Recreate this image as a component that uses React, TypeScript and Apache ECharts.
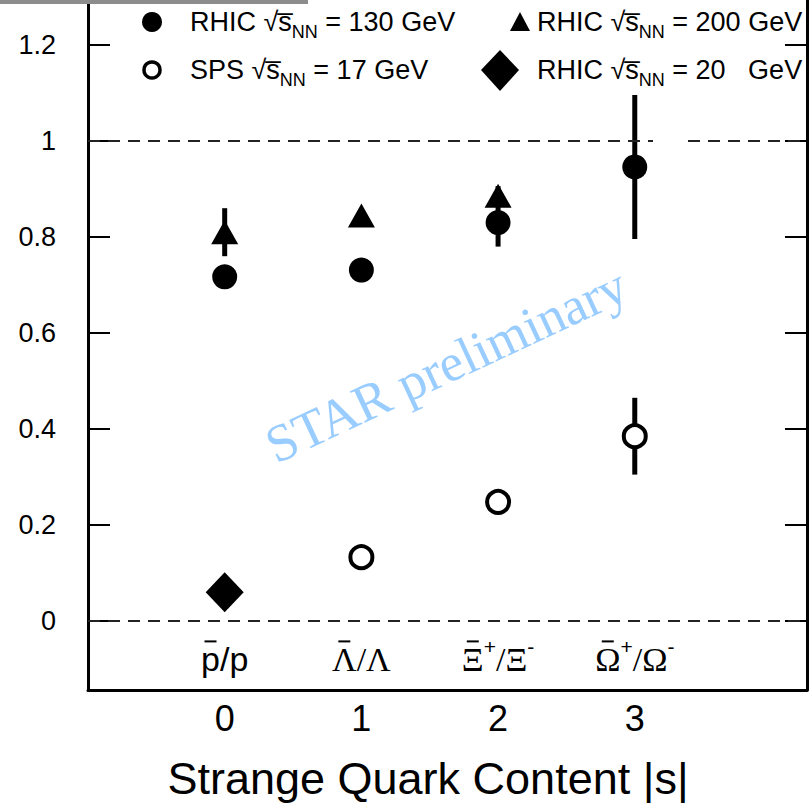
import React, { useEffect, useRef } from 'react';
import * as echarts from 'echarts';

// ---- data ----
const strangeness = [0, 1, 2, 3];
// particle ratio labels: [barred base, superscript, denominator, superscript]
const particleBase = ['p', '\u039B', '\u039E', '\u03A9'];
const particleBaseSup = ['', '', '+', '+'];
const particleDenom = ['/p', '/\u039B', '/\u039E', '/\u03A9'];
const particleDenomSup = ['', '', '-', '-'];
const particleSerif = [false, true, true, true];
const labelLevel = -0.08;

const rhic130X = [0, 1, 2, 3];
const rhic130 = [0.717, 0.731, 0.83, 0.946];
const rhic130Err = [0.02, 0.025, 0.05, 0.15];
const rhic200X = [0, 1, 2];
const rhic200 = [0.81, 0.845, 0.886];
const rhic200Err = [0.05, 0.01, 0.02];
const spsX = [1, 2, 3];
const sps = [0.133, 0.248, 0.385];
const spsErr = [0.01, 0.01, 0.08];
const rhic20X = [0];
const rhic20 = [0.06];
const yTicks = [0, 0.2, 0.4, 0.6, 0.8, 1, 1.2];
const xTicks = [0, 1, 2, 3];
const refLines = [0, 1];

const SANS = '"Liberation Sans", Arial, Helvetica, sans-serif';
const SERIF = '"Liberation Serif", "Times New Roman", serif';

let measureCtx: CanvasRenderingContext2D | null = null;
function measure(text: string, font: string): number {
  if (!measureCtx) measureCtx = document.createElement('canvas').getContext('2d');
  if (!measureCtx) return text.length * 15;
  measureCtx.font = font;
  return measureCtx.measureText(text).width;
}

function errData(xs: number[], ys: number[], es: number[]) {
  return xs.map((x, i) => [x, ys[i] - es[i], ys[i] + es[i]]);
}

function errSeries(data: number[][]) {
  return {
    type: 'custom',
    z: 2,
    silent: true,
    encode: { x: 0, y: [1, 2] },
    data,
    renderItem: (params: any, api: any) => {
      const x = api.value(0);
      const p1 = api.coord([x, api.value(1)]);
      const p2 = api.coord([x, api.value(2)]);
      return {
        type: 'line',
        shape: { x1: p1[0], y1: p1[1], x2: p2[0], y2: p2[1] },
        style: { stroke: '#000', lineWidth: 5 },
      };
    },
  };
}

const legendRich = {
  t: { fontSize: 27, fontFamily: SANS, color: '#000', lineHeight: 38 },
  gt: { fontSize: 27, fontFamily: SANS, color: '#555', lineHeight: 38 },
  sub: { fontSize: 18, fontFamily: SANS, color: '#000', lineHeight: 20, verticalAlign: 'bottom' },
  gsub: { fontSize: 18, fontFamily: SANS, color: '#555', lineHeight: 20, verticalAlign: 'bottom' },
};

export default function App() {
  const ref = useRef<HTMLDivElement>(null);
  useEffect(() => {
    if (!ref.current) return;
    const chart = echarts.init(ref.current, undefined, { renderer: 'svg' });
    const yMin = -0.14375;
    const yMax = 1.29375;
    const yAxisCommon = {
      type: 'value',
      min: yMin,
      max: yMax,
      splitLine: { show: false },
      axisLine: { show: true, onZero: false, lineStyle: { color: '#000', width: 3 } },
      axisTick: {
        show: true,
        inside: true,
        length: 22,
        customValues: yTicks,
        lineStyle: { color: '#000', width: 2 },
      },
    };
    const scatterItem = (extra: any) => ({ opacity: 1, ...extra });
    chart.setOption({
      animation: false,
      backgroundColor: '#fff',
      grid: { left: 88, right: 4, top: 0, bottom: 121, containLabel: false },
      xAxis: {
        type: 'value',
        min: -1,
        max: 4.26,
        splitLine: { show: false },
        axisLine: { show: true, onZero: false, lineStyle: { color: '#000', width: 3 } },
        axisTick: { show: false },
        axisLabel: {
          customValues: xTicks,
          fontSize: 36,
          fontFamily: SANS,
          color: '#000',
          margin: 10,
        },
      },
      yAxis: [
        {
          ...yAxisCommon,
          position: 'left',
          axisLabel: {
            customValues: yTicks,
            fontSize: 27,
            fontFamily: SANS,
            color: '#000',
            margin: 32,
          },
        },
        {
          ...yAxisCommon,
          position: 'right',
          axisLabel: { show: false },
        },
      ],
      series: [
        {
          type: 'custom',
          name: 'labels',
          silent: true,
          z: 1,
          encode: { x: 0, y: 1 },
          data: strangeness.map((x) => [x, labelLevel]),
          renderItem: (params: any, api: any) => {
            const i = params.dataIndex;
            const c = api.coord([api.value(0), api.value(1)]);
            const mainFont = `34px ${particleSerif[i] ? SERIF : SANS}`;
            const supFont = `21px ${SANS}`;
            const segs = [
              { t: particleBase[i], font: mainFont, sup: false, bar: true },
              { t: particleBaseSup[i], font: supFont, sup: true, bar: false },
              { t: particleDenom[i], font: mainFont, sup: false, bar: false },
              { t: particleDenomSup[i], font: supFont, sup: true, bar: false },
            ].filter((s) => s.t);
            const widths = segs.map((s) => measure(s.t, s.font));
            const total = widths.reduce((a, b) => a + b, 0);
            let x = c[0] - total / 2;
            const children: any[] = [];
            segs.forEach((s, k) => {
              const w = widths[k];
              children.push({
                type: 'text',
                x,
                y: s.sup ? c[1] - 13 : c[1],
                style: { text: s.t, font: s.font, fill: '#000', align: 'left', verticalAlign: 'middle' },
              });
              if (s.bar) {
                const mid = x + w / 2;
                children.push({
                  type: 'line',
                  shape: { x1: mid - 6, y1: c[1] - 18, x2: mid + 6, y2: c[1] - 18 },
                  style: { stroke: '#000', lineWidth: 2 },
                });
              }
              x += w;
            });
            return { type: 'group', children };
          },
          markLine: {
            silent: true,
            symbol: ['none', 'none'],
            label: { show: false },
            lineStyle: { type: [12, 8], width: 2, color: '#222' },
            data: refLines.map((v) => ({ yAxis: v })),
          },
        },
        errSeries(errData(rhic130X, rhic130, rhic130Err)),
        errSeries(errData(rhic200X, rhic200, rhic200Err)),
        errSeries(errData(spsX, sps, spsErr)),
        {
          type: 'scatter',
          name: 'RHIC 130',
          z: 3,
          symbol: 'circle',
          symbolSize: 25,
          itemStyle: scatterItem({ color: '#000' }),
          data: rhic130X.map((x, i) => [x, rhic130[i]]),
        },
        {
          type: 'scatter',
          name: 'RHIC 200',
          z: 3,
          symbol: 'triangle',
          symbolSize: [27, 24],
          itemStyle: scatterItem({ color: '#000' }),
          data: rhic200X.map((x, i) => [x, rhic200[i]]),
        },
        {
          type: 'scatter',
          name: 'SPS 17',
          z: 3,
          symbol: 'circle',
          symbolSize: 22,
          itemStyle: scatterItem({ color: '#fff', borderColor: '#000', borderWidth: 4 }),
          data: spsX.map((x, i) => [x, sps[i]]),
        },
        {
          type: 'scatter',
          name: 'RHIC 20',
          z: 3,
          symbol: 'diamond',
          symbolSize: [38, 40],
          itemStyle: scatterItem({ color: '#000' }),
          data: rhic20X.map((x, i) => [x, rhic20[i]]),
        },
      ],
      graphic: [
        { type: 'rect', z: 100, shape: { x: 0, y: 0, width: 308, height: 4 }, style: { fill: '#8c8c8c' } },
        { type: 'rect', z: 100, shape: { x: 653, y: 137, width: 34, height: 8 }, style: { fill: '#fff' } },
        {
          type: 'text',
          z: 0,
          x: 446,
          y: 365,
          rotation: (25 * Math.PI) / 180,
          style: {
            text: 'STAR preliminary',
            fontSize: 53,
            fontFamily: SERIF,
            fill: '#99ccff',
            align: 'center',
            verticalAlign: 'middle',
          },
        },
        {
          type: 'text',
          x: 428,
          y: 778,
          style: {
            text: 'Strange Quark Content |s|',
            fontSize: 45,
            fontFamily: SANS,
            fill: '#000',
            align: 'center',
            verticalAlign: 'middle',
          },
        },
        // legend markers
        { type: 'circle', z: 100, shape: { cx: 152, cy: 22, r: 10 }, style: { fill: '#000' } },
        { type: 'circle', z: 100, shape: { cx: 152, cy: 70, r: 8 }, style: { fill: '#fff', stroke: '#000', lineWidth: 3.5 } },
        {
          type: 'polygon',
          z: 100,
          shape: { points: [[520, 12], [510, 31], [530, 31]] },
          style: { fill: '#000' },
        },
        {
          type: 'polygon',
          z: 100,
          shape: { points: [[500, 50], [519, 70], [500, 91], [481, 70]] },
          style: { fill: '#000' },
        },
        // legend texts
        {
          type: 'text',
          z: 100,
          x: 190,
          y: 22,
          style: {
            text: '{t|RHIC \u221As\u0305}{sub|NN}{t| = 130 GeV}',
            rich: legendRich,
            verticalAlign: 'middle',
            align: 'left',
          },
        },
        {
          type: 'text',
          z: 100,
          x: 537,
          y: 22,
          style: {
            text: '{t|RHIC \u221As\u0305}{sub|NN}{t| = 200 GeV}',
            rich: legendRich,
            verticalAlign: 'middle',
            align: 'left',
          },
        },
        {
          type: 'text',
          z: 100,
          x: 190,
          y: 70,
          style: {
            text: '{t|SPS \u221As\u0305}{sub|NN}{t| = 17 GeV}',
            rich: legendRich,
            verticalAlign: 'middle',
            align: 'left',
          },
        },
        {
          type: 'text',
          z: 100,
          x: 537,
          y: 70,
          style: {
            text: '{gt|RHIC \u221As\u0305}{gsub|NN}{gt| = 20\u00A0\u00A0 GeV}',
            rich: legendRich,
            verticalAlign: 'middle',
            align: 'left',
          },
        },
      ],
    });
    return () => chart.dispose();
  }, []);
  return (
    <div
      ref={ref}
      style={{ position: 'fixed', left: 0, top: 0, width: 811, height: 811, background: '#fff' }}
    />
  );
}
